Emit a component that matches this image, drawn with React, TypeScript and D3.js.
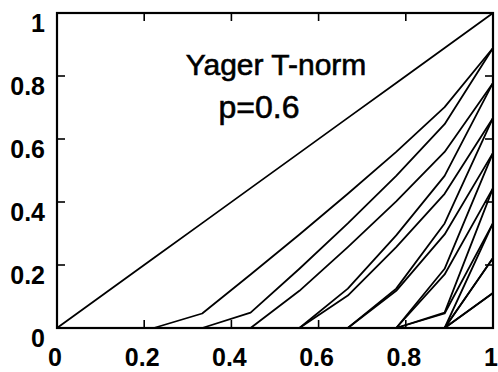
import React from "react";
import * as d3 from "d3";

const xGrid = [0, 0.111, 0.222, 0.333, 0.444, 0.556, 0.667, 0.778, 0.889, 1];

// curves for p = 0.6 (one per second argument b = 0, 1/9, ..., 1)
const curvesA = [
  [0, 0, 0, 0, 0, 0, 0, 0, 0, 0],
  [0, 0, 0, 0, 0, 0, 0, 0, 0, 0.111],
  [0, 0, 0, 0, 0, 0, 0, 0, 0, 0.222],
  [0, 0, 0, 0, 0, 0, 0, 0, 0, 0.333],
  [0, 0, 0, 0, 0, 0, 0, 0, 0.049, 0.444],
  [0, 0, 0, 0, 0, 0, 0, 0, 0.188, 0.556],
  [0, 0, 0, 0, 0, 0, 0, 0.125, 0.332, 0.667],
  [0, 0, 0, 0, 0, 0, 0.125, 0.294, 0.483, 0.778],
  [0, 0, 0, 0, 0.049, 0.188, 0.332, 0.483, 0.647, 0.889],
  [0, 0.111, 0.222, 0.333, 0.444, 0.556, 0.667, 0.778, 0.889, 1],
];

// second family of curves visible in the picture
const curvesB = [
  [0, 0, 0, 0, 0, 0, 0, 0, 0, 0.111],
  [0, 0, 0, 0, 0, 0, 0, 0, 0, 0.222],
  [0, 0, 0, 0, 0, 0, 0, 0, 0.046, 0.333],
  [0, 0, 0, 0, 0, 0, 0, 0, 0.17, 0.444],
  [0, 0, 0, 0, 0, 0, 0, 0.118, 0.297, 0.556],
  [0, 0, 0, 0, 0, 0, 0.103, 0.257, 0.426, 0.667],
  [0, 0, 0, 0, 0, 0.118, 0.257, 0.402, 0.559, 0.778],
  [0, 0, 0, 0.046, 0.17, 0.297, 0.426, 0.559, 0.701, 0.889],
];

const xTicks = [0, 0.2, 0.4, 0.6, 0.8, 1];
const yTicks = [0, 0.2, 0.4, 0.6, 0.8, 1];
const xTickLabels = ["0", "0.2", "0.4", "0.6", "0.8", "1"];
const yTickLabels = ["0", "0.2", "0.4", "0.6", "0.8", "1"];
const titleLines = ["Yager T-norm", "p=0.6"];

export default function App() {
  const W = 498, H = 372;
  const left = 57, right = 493, top = 13, bottom = 328;
  const x = d3.scaleLinear().domain([0, 1]).range([left, right]);
  const y = d3.scaleLinear().domain([0, 1]).range([bottom, top]);
  const line = d3
    .line<number>()
    .x((_, i) => x(xGrid[i]))
    .y((d) => y(d));
  const font = "'Liberation Sans', Arial, Helvetica, sans-serif";
  const tl = 8;
  const all = [...curvesA, ...curvesB];
  return (
    <svg
      width={W}
      height={H}
      style={{ position: "absolute", left: 0, top: 0, background: "#fff" }}
    >
      <rect x={0} y={0} width={W} height={H} fill="#fff" />
      {all.map((c, i) => (
        <path
          key={i}
          d={line(c) || ""}
          fill="none"
          stroke="#000"
          strokeWidth={1.8}
          strokeLinejoin="round"
        />
      ))}
      <rect
        x={left}
        y={top}
        width={right - left}
        height={bottom - top}
        fill="none"
        stroke="#000"
        strokeWidth={2.2}
      />
      {xTicks.map((t, i) => (
        <g key={"xt" + i}>
          <line x1={x(t)} x2={x(t)} y1={bottom} y2={bottom - tl} stroke="#000" strokeWidth={1.6} />
          <line x1={x(t)} x2={x(t)} y1={top} y2={top + tl} stroke="#000" strokeWidth={1.6} />
          <text
            x={x(t) - 2}
            y={366}
            textAnchor="middle"
            fontFamily={font}
            fontWeight="bold"
            fontSize={25}
          >
            {xTickLabels[i]}
          </text>
        </g>
      ))}
      {yTicks.map((t, i) => (
        <g key={"yt" + i}>
          <line x1={left} x2={left + tl} y1={y(t)} y2={y(t)} stroke="#000" strokeWidth={1.6} />
          <line x1={right} x2={right - tl} y1={y(t)} y2={y(t)} stroke="#000" strokeWidth={1.6} />
          <text
            x={45}
            y={y(t) + 19}
            textAnchor="end"
            fontFamily={font}
            fontWeight="bold"
            fontSize={25}
          >
            {yTickLabels[i]}
          </text>
        </g>
      ))}
      <text
        x={276}
        y={75}
        textAnchor="middle"
        fontFamily={font}
        fontSize={30}
        stroke="#000"
        strokeWidth={0.6}
      >
        {titleLines[0]}
      </text>
      <text
        x={259}
        y={118}
        textAnchor="middle"
        fontFamily={font}
        fontSize={32}
        stroke="#000"
        strokeWidth={0.6}
      >
        {titleLines[1]}
      </text>
    </svg>
  );
}
